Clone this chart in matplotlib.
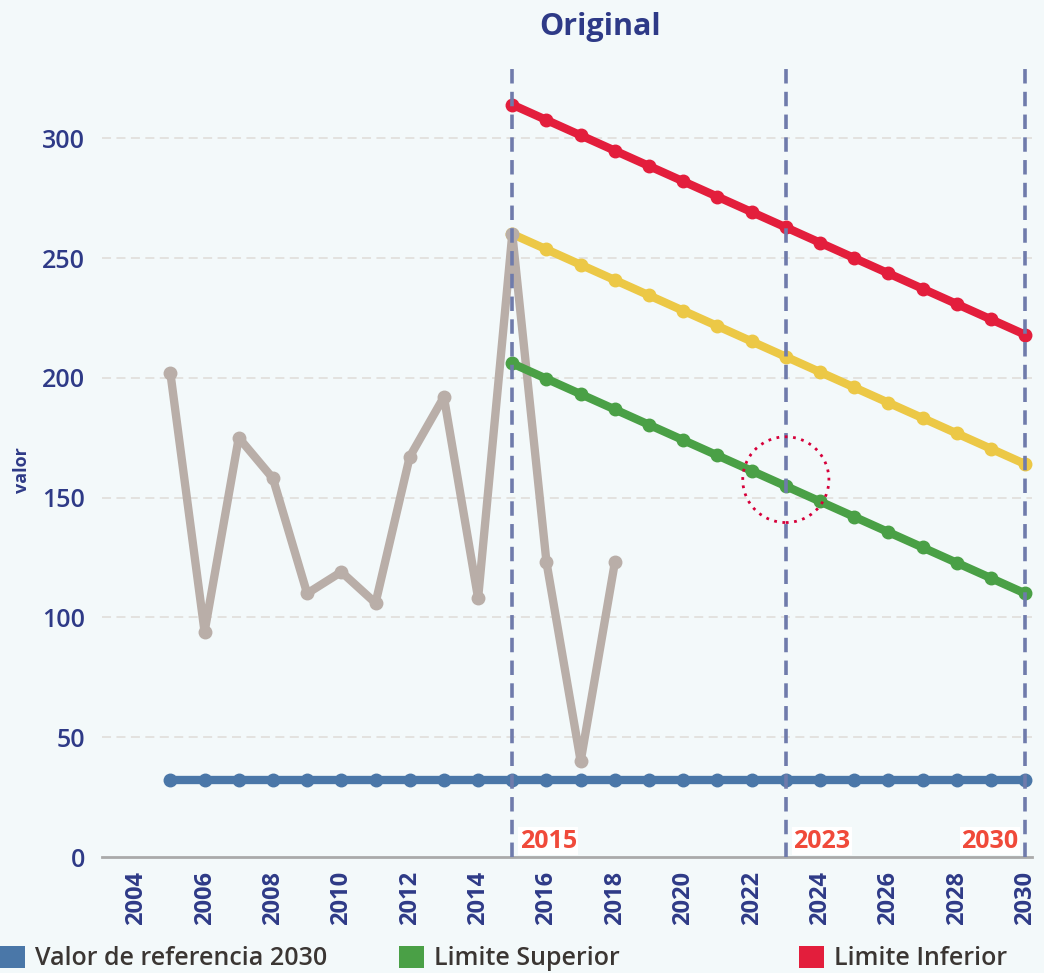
"""
Original: valor series with reference value and upper/lower limits to 2030.
"""

import matplotlib
matplotlib.use("Agg")
import matplotlib.pyplot as plt
from matplotlib.patches import Patch, Ellipse

# ======================  Data  ======================
hist_years = [2005, 2006, 2007, 2008, 2009, 2010, 2011, 2012, 2013, 2014,
              2015, 2016, 2017, 2018]
hist_values = [202, 94, 175, 158, 110, 119, 106, 167, 192, 108,
               260, 123, 40, 123]

ref_years = list(range(2005, 2031))
ref_values = [32] * len(ref_years)

limit_years = list(range(2015, 2031))
red_values = [314, 307.6, 301.2, 294.8, 288.4, 282, 275.6, 269.2,
              262.8, 256.4, 250, 243.6, 237.2, 230.8, 224.4, 218]
yellow_values = [260, 253.6, 247.2, 240.8, 234.4, 228, 221.6, 215.2,
                 208.8, 202.4, 196, 189.6, 183.2, 176.8, 170.4, 164]
green_values = [206, 199.6, 193.2, 186.8, 180.4, 174, 167.6, 161.2,
                154.8, 148.4, 142, 135.6, 129.2, 122.8, 116.4, 110]

milestones = [2015, 2023, 2030]
x_ticks = list(range(2004, 2031, 2))
y_ticks = [0, 50, 100, 150, 200, 250, 300]
legend_labels = ["Valor de referencia 2030", "Limite Superior", "Limite Inferior"]

# ======================  Style  ======================
BG = "#f3f9fa"
NAVY = "#2e3a87"
C_GRAY = "#b9aea8"
C_BLUE = "#4a77a8"
C_GREEN = "#4aa046"
C_YELLOW = "#ecc846"
C_RED = "#e31e3c"
C_VLINE = "#6f7bab"

plt.rcParams["font.family"] = ["Open Sans", "DejaVu Sans"]

fig = plt.figure(figsize=(10.44, 9.73), dpi=100, facecolor=BG)
ax = fig.add_axes([0.0977, 0.1192, 0.8908, 0.8168], facecolor=BG)

lw = 6
ms = 9
ax.plot(limit_years, yellow_values, color=C_YELLOW, lw=lw, marker="o", ms=ms, zorder=3)
ax.plot(hist_years, hist_values, color=C_GRAY, lw=lw, marker="o", ms=ms, zorder=4)
ax.plot(limit_years, green_values, color=C_GREEN, lw=lw, marker="o", ms=ms, zorder=5)
ax.plot(limit_years, red_values, color=C_RED, lw=lw, marker="o", ms=ms, zorder=5)
ax.plot(ref_years, ref_values, color=C_BLUE, lw=lw, marker="o", ms=ms, zorder=5)

# milestone dashed lines and labels
for yr in milestones:
    ax.axvline(yr, color=C_VLINE, lw=2.6, ls=(0, (4, 2.3)), zorder=6)
for yr, ha, dx in [(2015, "left", 0.22), (2023, "left", 0.22), (2030, "right", -0.2)]:
    ax.text(yr + dx, 6.5, str(yr), color="#f04a3a", fontsize=18, fontweight="bold",
            ha=ha, va="center", zorder=7,
            bbox=dict(facecolor="white", edgecolor="none", pad=1.0))

# dotted highlight circle
ax.add_patch(Ellipse((2023, 157.5), 2.52, 35.8, fill=False, edgecolor="#d6003a",
                     lw=2, ls=(0, (1, 2)), zorder=8))

ax.set_xlim(2003.0, 2030.2)
ax.set_ylim(0, 331.7)
ax.set_xticks(x_ticks)
ax.set_xticklabels([str(v) for v in x_ticks], rotation=90, fontsize=17,
                   fontweight="bold", color=NAVY)
ax.set_yticks(y_ticks)
ax.set_yticklabels([str(v) for v in y_ticks], fontsize=18, fontweight="semibold",
                   color=NAVY)
ax.tick_params(axis="x", length=0, pad=10)
ax.tick_params(axis="y", length=0, pad=12)
ax.grid(axis="y", color="#e2e0dd", lw=1.3, ls=(0, (5, 3)))
ax.yaxis.get_gridlines()[0].set_visible(False)

for side in ["top", "right", "left"]:
    ax.spines[side].set_visible(False)
ax.spines["bottom"].set_color("#aaaaaa")
ax.spines["bottom"].set_linewidth(2)

fig.text(0.021, 0.517, "valor", rotation=90, fontsize=13, fontweight="bold",
         color=NAVY, ha="center", va="center")
fig.text(0.575, 0.972, "Original", fontsize=22, fontweight="bold", color=NAVY,
         ha="center", va="center")

# legend items spread along the bottom
for label, color, x in zip(legend_labels, [C_BLUE, C_GREEN, C_RED], [-0.022, 0.361, 0.744]):
    fig.legend(handles=[Patch(facecolor=color, edgecolor="none", label=label)],
               loc="center left", bbox_to_anchor=(x, 0.015), frameon=False,
               handlelength=1.0, handleheight=1.0, handletextpad=0.4,
               labelcolor="#3b3633", prop={"weight": "semibold", "size": 18})

fig.savefig("out.png", dpi=100, facecolor=BG)
